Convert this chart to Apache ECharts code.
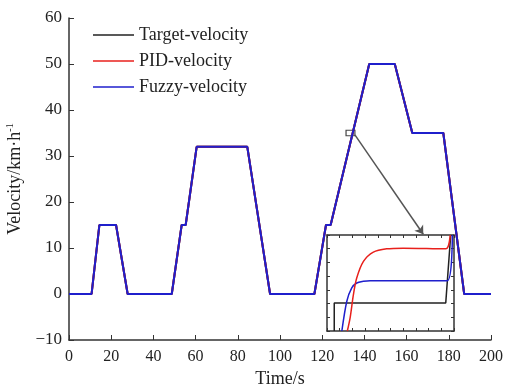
<!DOCTYPE html>
<html>
<head>
<meta charset="utf-8">
<script src="https://cdn.jsdelivr.net/npm/echarts@6/dist/echarts.min.js"></script>
<style>
  html, body { margin: 0; padding: 0; background: #fff; }
  #chart { width: 510px; height: 387px; }
</style>
</head>
<body>
<div id="chart"></div>
<script>
// 主图：速度曲线（三条在主图尺度下重合）
const timeS = [0, 10.7, 14.4, 22.3, 27.8, 48.7, 53.4, 55.3, 60.5, 84.5, 95.3, 116.3, 121.8, 124, 142.3, 154.4, 162.7, 177.4, 187.3, 200];
const targetVel = [0, 0, 15, 15, 0, 0, 15, 15, 32, 32, 0, 0, 15, 15, 50, 50, 35, 35, 0, 0];
const pidVel = [0, 0, 15, 15, 0, 0, 15, 15, 32, 32, 0, 0, 15, 15, 50, 50, 35, 35, 0, 0];
const fuzzyVel = [0, 0, 15, 15, 0, 0, 15, 15, 32, 32, 0, 0, 15, 15, 50, 50, 35, 35, 0, 0];
const xTicks = [0, 200, 20];
const yTicks = [-10, 60, 10];

// 局部放大图（相对坐标）
const zoomTargetX = [0.57, 0.57, 9.35, 9.74];
const zoomTargetY = [0, 2.05, 2.05, 7];
const zoomFuzzyX = [1.17, 1.56, 1.95, 2.34, 2.87, 3.39, 9.48, 9.87];
const zoomFuzzyY = [0, 2.17, 3.14, 3.5, 3.62, 3.67, 3.67, 7];
const zoomPidX = [1.6, 1.82, 2.08, 2.34, 2.87, 3.65, 4.7, 6.0, 9.35, 9.7];
const zoomPidY = [0, 0.96, 2.65, 3.86, 5.07, 5.75, 5.99, 6.04, 5.99, 7];

// 放大框与箭头（数据坐标）
const boxFrom = [131.3, 35.6];
const boxTo = [135.5, 34.4];
const arrowFrom = [135.5, 34.6];
const arrowTo = [167.9, 13.0];

const pair = (xs, ys) => xs.map((x, i) => [x, ys[i]]);

const font = 'Liberation Serif';
const axisColor = '#333';
const colors = { target: '#222222', pid: '#e8201c', fuzzy: '#1f1fcc' };

const insetAxis = (pos, max) => ({
  type: 'value',
  gridIndex: 1,
  position: pos,
  min: 0,
  max: max,
  interval: 1,
  axisLine: { show: true, onZero: false, lineStyle: { color: axisColor, width: 1.5 } },
  axisTick: { show: true, inside: true, length: 3, lineStyle: { color: axisColor } },
  axisLabel: { show: false },
  splitLine: { show: false },
});

const chart = echarts.init(document.getElementById('chart'));
const option = {
  animation: false,
  backgroundColor: '#fff',
  textStyle: { fontFamily: font },
  legend: {
    orient: 'vertical',
    left: 88,
    top: 21,
    icon: 'rect',
    itemWidth: 41,
    itemHeight: 1.6,
    itemGap: 8,
    textStyle: { fontFamily: font, fontSize: 18, color: '#222' },
    data: ['Target-velocity', 'PID-velocity', 'Fuzzy-velocity'],
  },
  grid: [
    { left: 69, right: 19, top: 18, bottom: 47, outerBoundsMode: 'none' },
    { left: 327, top: 235, width: 127, height: 96, backgroundColor: '#fff', show: true, borderWidth: 0, outerBoundsMode: 'none' },
  ],
  xAxis: [
    {
      type: 'value',
      gridIndex: 0,
      min: xTicks[0],
      max: xTicks[1],
      interval: xTicks[2],
      name: 'Time/s',
      nameLocation: 'middle',
      nameGap: 29,
      nameTextStyle: { fontFamily: font, fontSize: 18, color: '#222' },
      axisLine: { onZero: false, lineStyle: { color: axisColor, width: 1.5 } },
      axisTick: { inside: true, length: 5, lineStyle: { color: axisColor } },
      axisLabel: { fontFamily: font, fontSize: 16, color: '#222', margin: 9 },
      splitLine: { show: false },
    },
    insetAxis('bottom', 10),
    insetAxis('top', 10),
  ],
  yAxis: [
    {
      type: 'value',
      gridIndex: 0,
      min: yTicks[0],
      max: yTicks[1],
      interval: yTicks[2],
      name: 'Velocity/km·h{sup|-1}',
      nameLocation: 'middle',
      nameGap: 40,
      nameTextStyle: {
        fontFamily: font, fontSize: 18, color: '#222',
        rich: { sup: { fontFamily: font, fontSize: 10, color: '#222', padding: [0, 0, 10, 0] } },
      },
      axisLine: { onZero: false, lineStyle: { color: axisColor, width: 1.5 } },
      axisTick: { inside: true, length: 5, lineStyle: { color: axisColor } },
      axisLabel: {
        fontFamily: font, fontSize: 17, color: '#222', margin: 7,
        formatter: v => (v < 0 ? '\u2212' + Math.abs(v) : String(v)),
      },
      splitLine: { show: false },
    },
    insetAxis('left', 7),
    insetAxis('right', 7),
  ],
  series: [
    {
      name: 'Target-velocity',
      type: 'line',
      symbol: 'none',
      data: pair(timeS, targetVel),
      lineStyle: { color: colors.target, width: 2 },
      itemStyle: { color: colors.target },
    },
    {
      name: 'PID-velocity',
      type: 'line',
      symbol: 'none',
      data: pair(timeS, pidVel),
      lineStyle: { color: colors.pid, width: 2 },
      itemStyle: { color: colors.pid },
    },
    {
      name: 'Fuzzy-velocity',
      type: 'line',
      symbol: 'none',
      data: pair(timeS, fuzzyVel),
      lineStyle: { color: colors.fuzzy, width: 2 },
      itemStyle: { color: colors.fuzzy },
      markArea: {
        silent: true,
        itemStyle: { color: 'rgba(0,0,0,0)', borderColor: '#444', borderWidth: 1.2 },
        data: [[{ coord: boxFrom }, { coord: boxTo }]],
      },
      markLine: {
        silent: true,
        symbol: ['none', 'arrow'],
        symbolSize: 8,
        label: { show: false },
        lineStyle: { color: '#555', width: 1.5, type: 'solid' },
        data: [[{ coord: arrowFrom }, { coord: arrowTo }]],
      },
    },
    {
      name: 'Target-velocity',
      type: 'line',
      xAxisIndex: 1,
      yAxisIndex: 1,
      symbol: 'none',
      data: pair(zoomTargetX, zoomTargetY),
      lineStyle: { color: colors.target, width: 1.5 },
    },
    {
      name: 'Fuzzy-velocity',
      type: 'line',
      xAxisIndex: 1,
      yAxisIndex: 1,
      symbol: 'none',
      smooth: 0.3,
      data: pair(zoomFuzzyX, zoomFuzzyY),
      lineStyle: { color: colors.fuzzy, width: 1.5 },
    },
    {
      name: 'PID-velocity',
      type: 'line',
      xAxisIndex: 1,
      yAxisIndex: 1,
      symbol: 'none',
      smooth: 0.3,
      data: pair(zoomPidX, zoomPidY),
      lineStyle: { color: colors.pid, width: 1.5 },
    },
  ],
};
chart.setOption(option);
window.addEventListener('resize', () => {
  chart.resize();
});
</script>
</body>
</html>
